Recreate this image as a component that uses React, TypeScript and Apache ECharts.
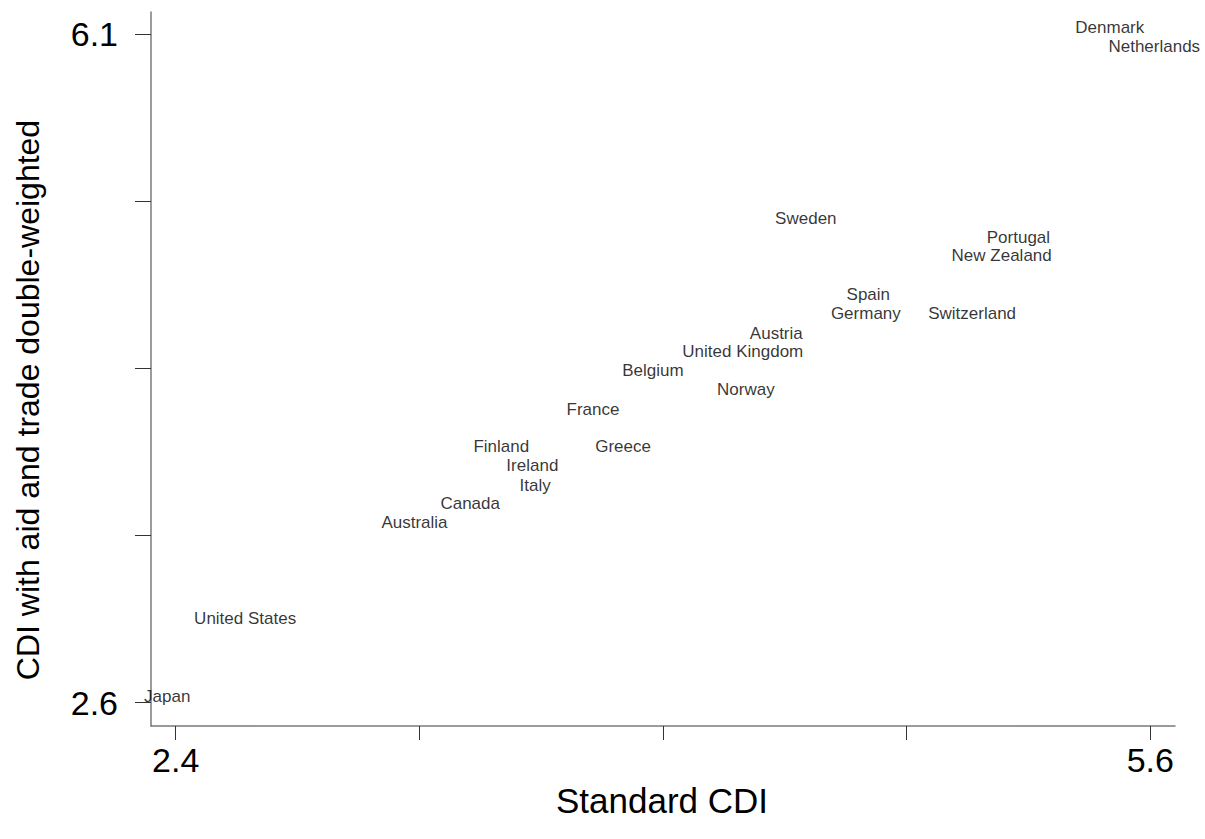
import React, { useEffect, useRef } from "react";
import * as echarts from "echarts";

const countries = [
  "Denmark", "Netherlands", "Sweden", "Portugal", "New Zealand", "Spain",
  "Germany", "Switzerland", "Austria", "United Kingdom", "Belgium", "Norway",
  "France", "Finland", "Greece", "Ireland", "Italy", "Canada", "Australia",
  "United States", "Japan",
];
const standardCDI = [
  5.467, 5.613, 4.469, 5.167, 5.112, 4.674,
  4.666, 5.015, 4.372, 4.262, 3.967, 4.272,
  3.77, 3.469, 3.869, 3.571, 3.58, 3.367, 3.184,
  2.628, 2.372,
];
const weightedCDI = [
  6.135, 6.034, 5.135, 5.034, 4.938, 4.738,
  4.638, 4.638, 4.533, 4.437, 4.339, 4.24,
  4.136, 3.94, 3.94, 3.84, 3.739, 3.64, 3.542,
  3.042, 2.635,
];
const xTicks = [2.4, 3.2, 4.0, 4.8, 5.6];
const xTickLabels = [2.4, 5.6];
const yTicks = [2.6, 3.475, 4.35, 5.225, 6.1];
const yTickLabels = [2.6, 6.1];
const xTitle = "Standard CDI";
const yTitle = "CDI with aid and trade double-weighted";

const FONT = "'Liberation Sans', Arial, Helvetica, sans-serif";

export default function App() {
  const ref = useRef<HTMLDivElement>(null);
  useEffect(() => {
    if (!ref.current) return;
    const chart = echarts.init(ref.current, null, { renderer: "svg" });
    const data = countries.map((c, i) => ({
      name: c,
      value: [standardCDI[i], weightedCDI[i]],
    }));
    chart.setOption({
      animation: false,
      backgroundColor: "#ffffff",
      grid: { left: 151, top: 12, right: 30, bottom: 113 },
      xAxis: {
        type: "value",
        min: 2.3189,
        max: 5.6811,
        axisLine: { show: true, lineStyle: { color: "#7a7a7a", width: 1.5 } },
        axisTick: {
          show: true,
          customValues: xTicks,
          length: 14,
          inside: false,
          lineStyle: { color: "#333333", width: 1 },
        },
        axisLabel: {
          customValues: xTickLabels,
          formatter: (v: number) => v.toFixed(1),
          fontSize: 34,
          fontFamily: FONT,
          color: "#000000",
          margin: 17,
        },
        splitLine: { show: false },
      },
      yAxis: {
        type: "value",
        min: 2.478,
        max: 6.215,
        axisLine: { show: true, lineStyle: { color: "#7a7a7a", width: 1.5 } },
        axisTick: {
          show: true,
          customValues: yTicks,
          length: 16,
          inside: false,
          lineStyle: { color: "#333333", width: 1 },
        },
        axisLabel: {
          customValues: yTickLabels,
          formatter: (v: number) => v.toFixed(1),
          fontSize: 34,
          fontFamily: FONT,
          color: "#000000",
          margin: 33,
          padding: [12, 0, 0, 0],
        },
        splitLine: { show: false },
      },
      graphic: [
        {
          type: "text",
          x: 662,
          y: 800,
          style: {
            text: xTitle,
            fontSize: 35,
            fontFamily: FONT,
            fill: "#000000",
            align: "center",
            verticalAlign: "middle",
          },
        },
        {
          type: "text",
          x: 28,
          y: 400,
          rotation: Math.PI / 2,
          style: {
            text: yTitle,
            fontSize: 32,
            fontFamily: FONT,
            fill: "#000000",
            align: "center",
            verticalAlign: "middle",
          },
        },
      ],
      series: [
        {
          type: "scatter",
          data,
          symbol: "circle",
          symbolSize: 1,
          itemStyle: { color: "rgba(0,0,0,0)" },
          label: {
            show: true,
            position: "inside",
            formatter: (p: any) => p.name,
            fontSize: 17,
            fontFamily: FONT,
            color: "#000000",
            align: "center",
            verticalAlign: "middle",
          },
          emphasis: { disabled: true },
        },
      ],
    });
    return () => chart.dispose();
  }, []);
  return (
    <div
      ref={ref}
      style={{ position: "absolute", left: 0, top: 0, width: 1205, height: 839 }}
    />
  );
}
